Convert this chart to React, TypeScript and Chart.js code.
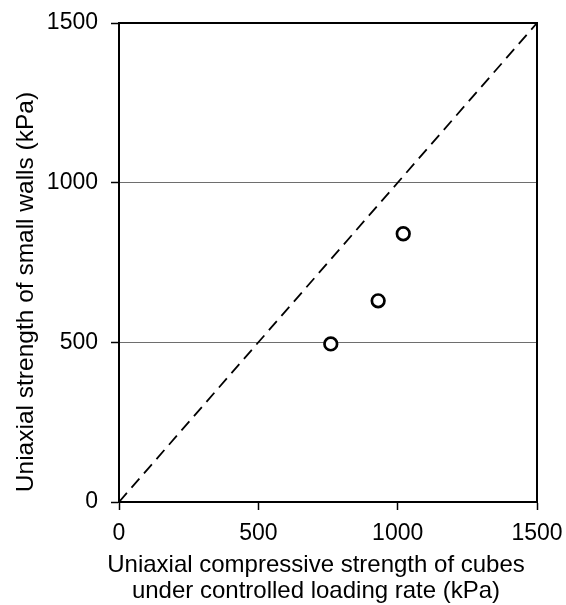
import React, { useEffect, useRef } from "react";
import { Chart, registerables } from "chart.js";

Chart.register(...registerables);

// ---- data ----
const cubeStrength = [760, 930, 1020];
const wallStrength = [495, 630, 840];
const equalityLine = [0, 1500];
const axisMin = 0;
const axisMax = 1500;
const axisStep = 500;
const gridValues = [500, 1000];
const xTitleLines = ["Uniaxial compressive strength of cubes", "under controlled loading rate (kPa)"];
const yTitleText = "Uniaxial strength of small walls (kPa)";

const FONT = '"Liberation Sans", Arial, Helvetica, sans-serif';

const framePlugin = {
  id: "frameAndTitles",
  afterDraw(chart: any) {
    const { ctx, chartArea } = chart;
    ctx.save();
    ctx.strokeStyle = "#000";
    ctx.lineWidth = 2;
    ctx.beginPath();
    ctx.moveTo(chartArea.left, chartArea.top);
    ctx.lineTo(chartArea.right, chartArea.top);
    ctx.lineTo(chartArea.right, chartArea.bottom);
    ctx.stroke();

    ctx.fillStyle = "#000";
    ctx.font = `24px ${FONT}`;
    ctx.textAlign = "center";
    ctx.textBaseline = "alphabetic";
    ctx.fillText(xTitleLines[0], 316, 572);
    ctx.fillText(xTitleLines[1], 316, 598);

    ctx.font = `24.5px ${FONT}`;
    ctx.translate(33, 292);
    ctx.rotate(-Math.PI / 2);
    ctx.fillText(yTitleText, 0, 0);
    ctx.restore();
  },
};

export default function App() {
  const ref = useRef<HTMLCanvasElement | null>(null);

  useEffect(() => {
    if (!ref.current) return;
    const chart = new Chart(ref.current, {
      type: "scatter",
      data: {
        datasets: [
          {
            label: "Measured",
            data: cubeStrength.map((x, i) => ({ x, y: wallStrength[i] })),
            pointRadius: 6.3,
            pointHoverRadius: 6.3,
            pointBorderWidth: 2.7,
            pointBorderColor: "#000",
            pointBackgroundColor: "#fff",
            borderColor: "#000",
            backgroundColor: "#fff",
            showLine: false,
          },
          {
            label: "1:1",
            data: equalityLine.map((v) => ({ x: v, y: v })),
            showLine: true,
            borderColor: "#000",
            borderWidth: 1.8,
            borderDash: [12, 7],
            pointRadius: 0,
            pointHoverRadius: 0,
            fill: false,
          },
        ],
      },
      options: {
        animation: false,
        responsive: false,
        devicePixelRatio: 1,
        layout: { padding: { top: 23, right: 29, left: 0, bottom: 0 } },
        plugins: {
          legend: { display: false },
          tooltip: { enabled: false },
          title: { display: false },
        },
        scales: {
          x: {
            type: "linear",
            min: axisMin,
            max: axisMax,
            afterFit: (s: any) => {
              s.height = 103;
              s.paddingLeft = 0;
              s.paddingRight = 0;
            },
            ticks: {
              stepSize: axisStep,
              color: "#000",
              font: { family: FONT, size: 23 },
              padding: 10,
              maxRotation: 0,
              callback: (v: any) => String(v),
            },
            grid: {
              drawOnChartArea: false,
              drawTicks: true,
              tickLength: 8,
              tickColor: "#000",
              tickWidth: 1.5,
            },
            border: { display: true, color: "#000", width: 2 },
          },
          y: {
            type: "linear",
            min: axisMin,
            max: axisMax,
            afterFit: (s: any) => {
              s.width = 119;
              s.paddingTop = 0;
              s.paddingBottom = 0;
            },
            ticks: {
              stepSize: axisStep,
              color: "#000",
              font: { family: FONT, size: 23 },
              padding: 13,
              callback: (v: any) => String(v),
            },
            grid: {
              drawOnChartArea: true,
              color: (c: any) =>
                c.tick && gridValues.includes(c.tick.value) ? "#6e6e6e" : "rgba(0,0,0,0)",
              lineWidth: 1,
              tickLength: 8,
              tickColor: "#000",
              tickWidth: 1.5,
            },
            border: { display: true, color: "#000", width: 2 },
          },
        },
      },
      plugins: [framePlugin],
    });
    return () => chart.destroy();
  }, []);

  return (
    <div style={{ position: "absolute", left: 0, top: 0, width: 566, height: 605, background: "#fff" }}>
      <canvas ref={ref} width={566} height={605} style={{ display: "block" }} />
    </div>
  );
}
